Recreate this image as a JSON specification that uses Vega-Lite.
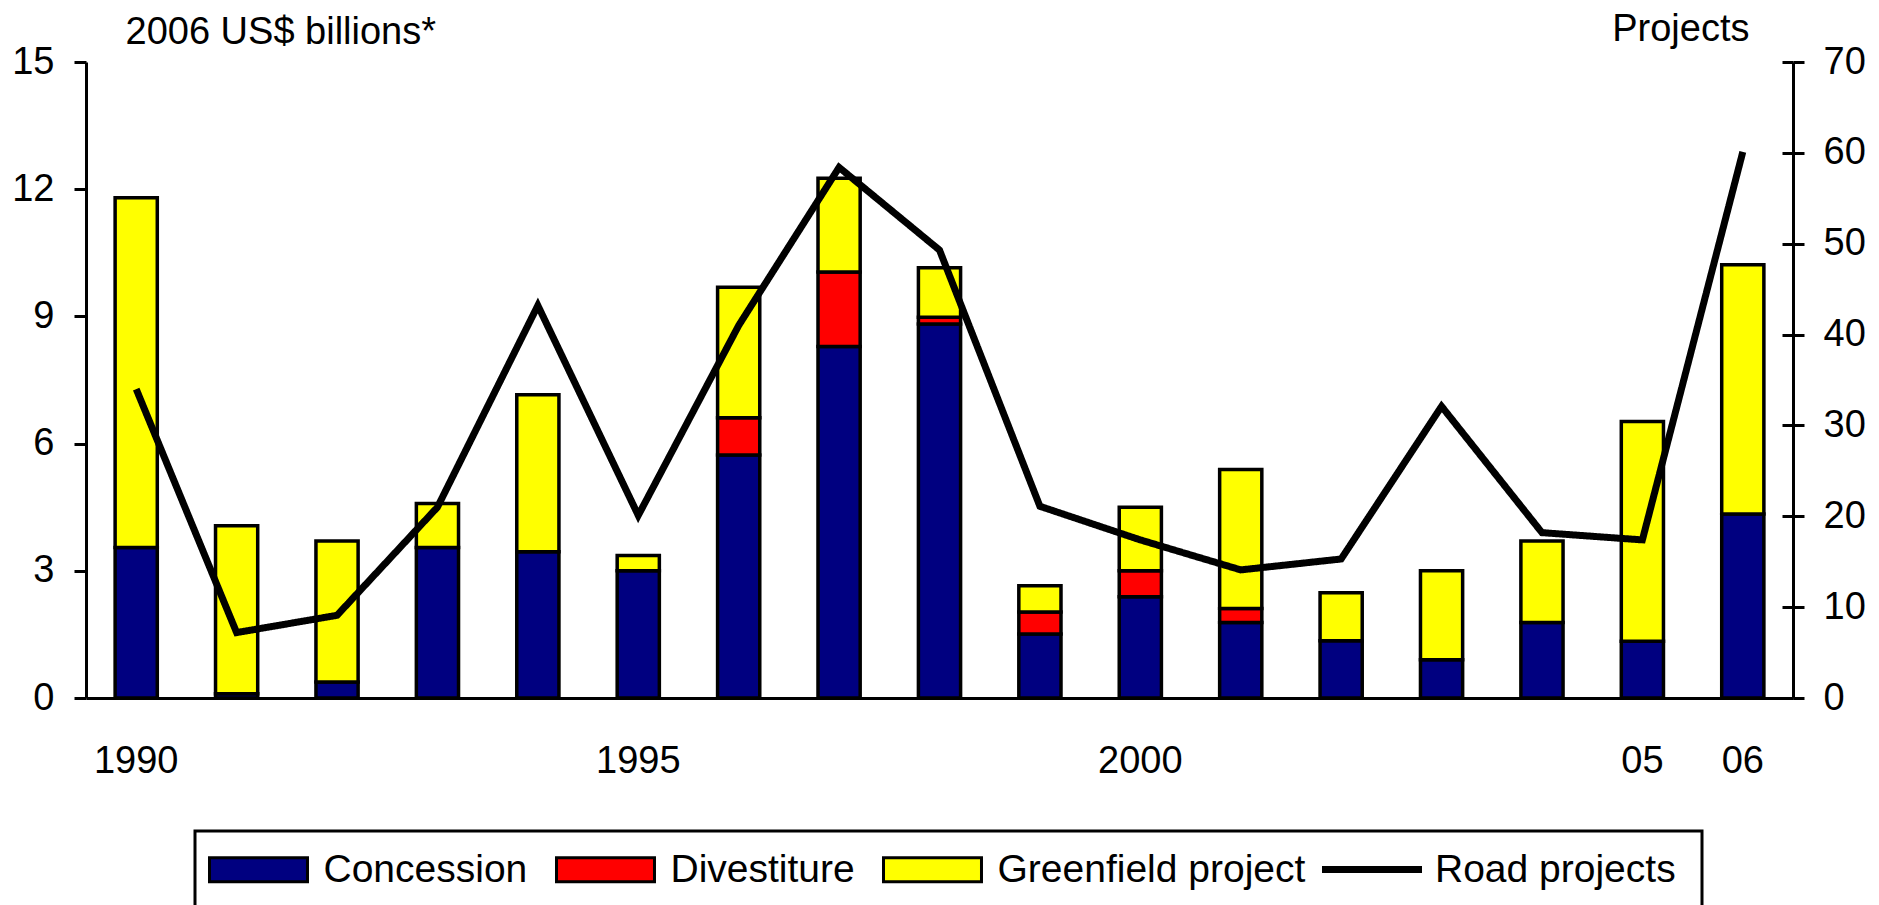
{
  "$schema": "https://vega.github.io/schema/vega-lite/v6.json",
  "width": 1707,
  "height": 636,
  "autosize": {"type": "none"},
  "padding": {"left": 86, "top": 62, "right": 86, "bottom": 207},
  "background": "white",
  "config": {
    "view": {"stroke": null},
    "font": "Liberation Sans",
    "axis": {"grid": false, "labelColor": "black", "titleColor": "black", "domainColor": "black", "tickColor": "black", "labelFont": "Liberation Sans", "titleFont": "Liberation Sans"},
    "legend": {"strokeWidth": 3}
  },
  "datasets": {
    "bars": [
      {"year": "1990", "type": "Concession", "ord": 1, "value": 3.55},
      {"year": "1990", "type": "Greenfield project", "ord": 3, "value": 8.25},
      {"year": "1991", "type": "Concession", "ord": 1, "value": 0.1},
      {"year": "1991", "type": "Greenfield project", "ord": 3, "value": 3.96},
      {"year": "1992", "type": "Concession", "ord": 1, "value": 0.38},
      {"year": "1992", "type": "Greenfield project", "ord": 3, "value": 3.32},
      {"year": "1993", "type": "Concession", "ord": 1, "value": 3.55},
      {"year": "1993", "type": "Greenfield project", "ord": 3, "value": 1.04},
      {"year": "1994", "type": "Concession", "ord": 1, "value": 3.45},
      {"year": "1994", "type": "Greenfield project", "ord": 3, "value": 3.7},
      {"year": "1995", "type": "Concession", "ord": 1, "value": 3.0},
      {"year": "1995", "type": "Greenfield project", "ord": 3, "value": 0.36},
      {"year": "1996", "type": "Concession", "ord": 1, "value": 5.73},
      {"year": "1996", "type": "Divestiture", "ord": 2, "value": 0.88},
      {"year": "1996", "type": "Greenfield project", "ord": 3, "value": 3.08},
      {"year": "1997", "type": "Concession", "ord": 1, "value": 8.29},
      {"year": "1997", "type": "Divestiture", "ord": 2, "value": 1.76},
      {"year": "1997", "type": "Greenfield project", "ord": 3, "value": 2.21},
      {"year": "1998", "type": "Concession", "ord": 1, "value": 8.82},
      {"year": "1998", "type": "Divestiture", "ord": 2, "value": 0.16},
      {"year": "1998", "type": "Greenfield project", "ord": 3, "value": 1.17},
      {"year": "1999", "type": "Concession", "ord": 1, "value": 1.51},
      {"year": "1999", "type": "Divestiture", "ord": 2, "value": 0.52},
      {"year": "1999", "type": "Greenfield project", "ord": 3, "value": 0.62},
      {"year": "2000", "type": "Concession", "ord": 1, "value": 2.39},
      {"year": "2000", "type": "Divestiture", "ord": 2, "value": 0.61},
      {"year": "2000", "type": "Greenfield project", "ord": 3, "value": 1.5},
      {"year": "2001", "type": "Concession", "ord": 1, "value": 1.78},
      {"year": "2001", "type": "Divestiture", "ord": 2, "value": 0.33},
      {"year": "2001", "type": "Greenfield project", "ord": 3, "value": 3.28},
      {"year": "2002", "type": "Concession", "ord": 1, "value": 1.35},
      {"year": "2002", "type": "Greenfield project", "ord": 3, "value": 1.13},
      {"year": "2003", "type": "Concession", "ord": 1, "value": 0.9},
      {"year": "2003", "type": "Greenfield project", "ord": 3, "value": 2.1},
      {"year": "2004", "type": "Concession", "ord": 1, "value": 1.78},
      {"year": "2004", "type": "Greenfield project", "ord": 3, "value": 1.92},
      {"year": "2005", "type": "Concession", "ord": 1, "value": 1.34},
      {"year": "2005", "type": "Greenfield project", "ord": 3, "value": 5.18},
      {"year": "2006", "type": "Concession", "ord": 1, "value": 4.34},
      {"year": "2006", "type": "Greenfield project", "ord": 3, "value": 5.88}
    ],
    "road": [
      {"year": "1990", "projects": 34.0, "series": "Road projects"},
      {"year": "1991", "projects": 7.2, "series": "Road projects"},
      {"year": "1992", "projects": 9.1, "series": "Road projects"},
      {"year": "1993", "projects": 21.0, "series": "Road projects"},
      {"year": "1994", "projects": 43.2, "series": "Road projects"},
      {"year": "1995", "projects": 20.1, "series": "Road projects"},
      {"year": "1996", "projects": 41.0, "series": "Road projects"},
      {"year": "1997", "projects": 58.4, "series": "Road projects"},
      {"year": "1998", "projects": 49.3, "series": "Road projects"},
      {"year": "1999", "projects": 21.1, "series": "Road projects"},
      {"year": "2000", "projects": 17.4, "series": "Road projects"},
      {"year": "2001", "projects": 14.1, "series": "Road projects"},
      {"year": "2002", "projects": 15.3, "series": "Road projects"},
      {"year": "2003", "projects": 32.1, "series": "Road projects"},
      {"year": "2004", "projects": 18.2, "series": "Road projects"},
      {"year": "2005", "projects": 17.4, "series": "Road projects"},
      {"year": "2006", "projects": 60.1, "series": "Road projects"}
    ]
  },
  "layer": [
    {
      "data": {"name": "bars"},
      "mark": {"type": "bar", "stroke": "black", "strokeWidth": 3.5, "opacity": 1},
      "encoding": {
        "x": {
          "field": "year", "type": "nominal",
          "scale": {"paddingInner": 0.58, "paddingOuter": 0.29},
          "axis": {
            "orient": "bottom", "title": null, "values": ["1990", "1995", "2000", "2005", "2006"],
            "labelExpr": "datum.value == '2005' ? '05' : datum.value == '2006' ? '06' : datum.value",
            "labelAngle": 0, "labelFontSize": 38, "labelPadding": 44, "ticks": false,
            "domainWidth": 3, "labelFlush": false
          }
        },
        "y": {
          "field": "value", "type": "quantitative", "stack": "zero",
          "scale": {"domain": [0, 15], "nice": false},
          "axis": {
            "orient": "left", "values": [0, 3, 6, 9, 12, 15], "tickSize": 12, "tickWidth": 3,
            "domainWidth": 3, "labelFontSize": 38, "labelPadding": 20, "labelFlush": false,
            "title": "2006 US$ billions*", "titleAngle": 0, "titleAlign": "left", "titleBaseline": "alphabetic",
            "titleX": 39, "titleY": -19, "titleFontSize": 38, "titleFontWeight": "normal"
          }
        },
        "color": {
          "field": "type", "type": "nominal",
          "scale": {"domain": ["Concession", "Divestiture", "Greenfield project"], "range": ["#000080", "#ff0000", "#ffff00"]},
          "legend": {
            "orient": "none", "legendX": 109, "legendY": 769, "direction": "horizontal", "columns": 3,
            "title": " ", "titleOrient": "right", "titlePadding": 384, "titleFontSize": 10,
            "padding": 13, "columnPadding": 22,
            "strokeColor": "black",
            "labelFont": "Liberation Sans", "labelFontSize": 39, "labelColor": "black", "labelOffset": 64.5, "labelLimit": 500,
            "symbolSize": 2304, "symbolType": "M-1,-0.5H3.083V0.5H-1ZM0,-1M0,4", "symbolStrokeColor": "black", "symbolStrokeWidth": 3, "symbolOpacity": 1
          }
        },
        "order": {"field": "ord", "type": "quantitative"}
      }
    },
    {
      "data": {"name": "road"},
      "mark": {"type": "line", "color": "black", "strokeWidth": 7, "strokeJoin": "miter"},
      "encoding": {
        "x": {"field": "year", "type": "nominal"},
        "y": {
          "field": "projects", "type": "quantitative",
          "scale": {"domain": [0, 70], "nice": false},
          "axis": {
            "orient": "right", "values": [0, 10, 20, 30, 40, 50, 60, 70], "tickSize": 11, "tickWidth": 3,
            "domainWidth": 3, "labelFontSize": 38, "labelPadding": 19, "labelFlush": false,
            "title": "Projects", "titleAngle": 0, "titleAlign": "right", "titleBaseline": "alphabetic",
            "titleX": -44, "titleY": -22, "titleFontSize": 38, "titleFontWeight": "normal"
          }
        },
        "strokeDash": {
          "field": "series", "type": "nominal",
          "scale": {"domain": ["Road projects"], "range": [[1, 0]]},
          "legend": {
            "orient": "none", "legendX": 1232.5, "legendY": 754, "direction": "horizontal",
            "title": null, "padding": 0,
            "labelFont": "Liberation Sans", "labelFontSize": 39, "labelColor": "black", "labelOffset": 9.5, "labelLimit": 500,
            "symbolSize": 10000, "symbolType": "M-1,0H1M0,-0.48M0,2", "symbolStrokeColor": "black", "symbolStrokeWidth": 7, "symbolFillColor": "transparent", "symbolOpacity": 1
          }
        }
      }
    },
    {
      "data": {"name": "road"},
      "mark": {"type": "line", "opacity": 0},
      "encoding": {
        "x": {"field": "year", "type": "nominal"},
        "y": {
          "field": "projects", "type": "quantitative",
          "scale": {"domain": [0, 70], "nice": false},
          "axis": {
            "orient": "right", "values": [0, 10, 20, 30, 40, 50, 60, 70], "tickSize": -11, "tickWidth": 3,
            "domain": false, "labels": false, "title": null
          }
        }
      }
    }
  ],
  "resolve": {"scale": {"y": "independent"}, "axis": {"y": "independent"}}
}
